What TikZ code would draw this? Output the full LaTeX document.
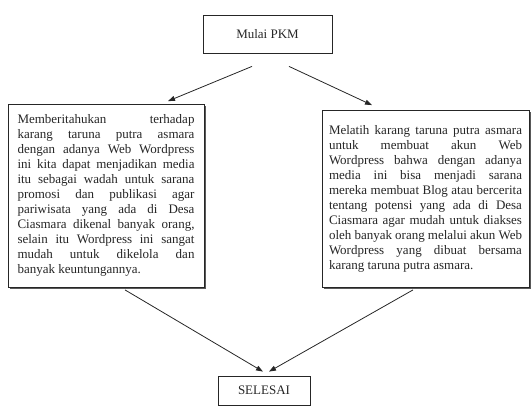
\documentclass[tikz,border=0pt]{standalone}
\usepackage{fontspec}
\setmainfont{Liberation Serif}
\usepackage{tikz}
\usetikzlibrary{arrows.meta}
\usetikzlibrary{calc}
\usetikzlibrary{positioning}
\usetikzlibrary{shadows}

\begin{document}
\begin{tikzpicture}[
		x=1pt,
		y=1pt,
		font=\fontsize{13pt}{15pt}\selectfont,
		>={Triangle[length=7,width=5]}
	]
		\tikzset{kotak/.style={
			draw=black!85,
			line width=0.8,
			rectangle,
			inner sep=0,
			text=black!85,
		}}
		\tikzset{isi/.style={
			kotak,
			align=justify,
			drop shadow={shadow xshift=1.6, shadow yshift=-1.6, fill=black!65, opacity=1},
			fill=white,
		}}
		\tikzset{panah/.style={
			->,
			draw=black!85,
			line width=0.8,
		}}

		\useasboundingbox (0,0) rectangle (532,408);

		\node[kotak, minimum width=129, minimum height=38] (mulai) at (267.5,374) {Mulai PKM};

		\node[isi, minimum width=196, minimum height=183, text width=177] (kiri) at (106,212.5) {%
			\hyphenpenalty=10000\relax
			Memberitahukan terhadap\linebreak
			karang taruna putra asmara\linebreak
			dengan adanya Web Wordpress\linebreak
			ini kita dapat menjadikan media\linebreak
			itu sebagai wadah untuk sarana\linebreak
			promosi dan publikasi agar\linebreak
			pariwisata yang ada di Desa\linebreak
			Ciasmara dikenal banyak orang,\linebreak
			selain itu Wordpress ini sangat\linebreak
			mudah untuk dikelola dan\linebreak
			banyak keuntungannya.};

		\node[isi, minimum width=207, minimum height=177, text width=193] (kanan) at (425.5,209.5) {%
			\hyphenpenalty=10000\relax
			Melatih karang taruna putra asmara\linebreak
			untuk membuat akun Web\linebreak
			Wordpress bahwa dengan adanya\linebreak
			media ini bisa menjadi sarana\linebreak
			mereka membuat Blog atau bercerita\linebreak
			tentang potensi yang ada di Desa\linebreak
			Ciasmara agar mudah untuk diakses\linebreak
			oleh banyak orang melalui akun Web\linebreak
			Wordpress yang dibuat bersama\linebreak
			karang taruna putra asmara.};

		\node[kotak, minimum width=92, minimum height=29] (selesai) at (264,17.5) {SELESAI};

		% panah dari mulai
		\draw[panah] ([xshift=-15.5,yshift=-13]mulai.south) -- ([xshift=62,yshift=2.5]kiri.north);
		\draw[panah] ([xshift=21.5,yshift=-13]mulai.south) -- ([xshift=-53.5,yshift=4.5]kanan.north);

		% panah ke selesai
		\draw[panah] ([xshift=19,yshift=-2.5]kiri.south) -- ([xshift=-1,yshift=4]selesai.north);
		\draw[panah] ([xshift=-12.5,yshift=-2.5]kanan.south) -- ([xshift=5,yshift=4]selesai.north);
	\end{tikzpicture}
\end{document}
